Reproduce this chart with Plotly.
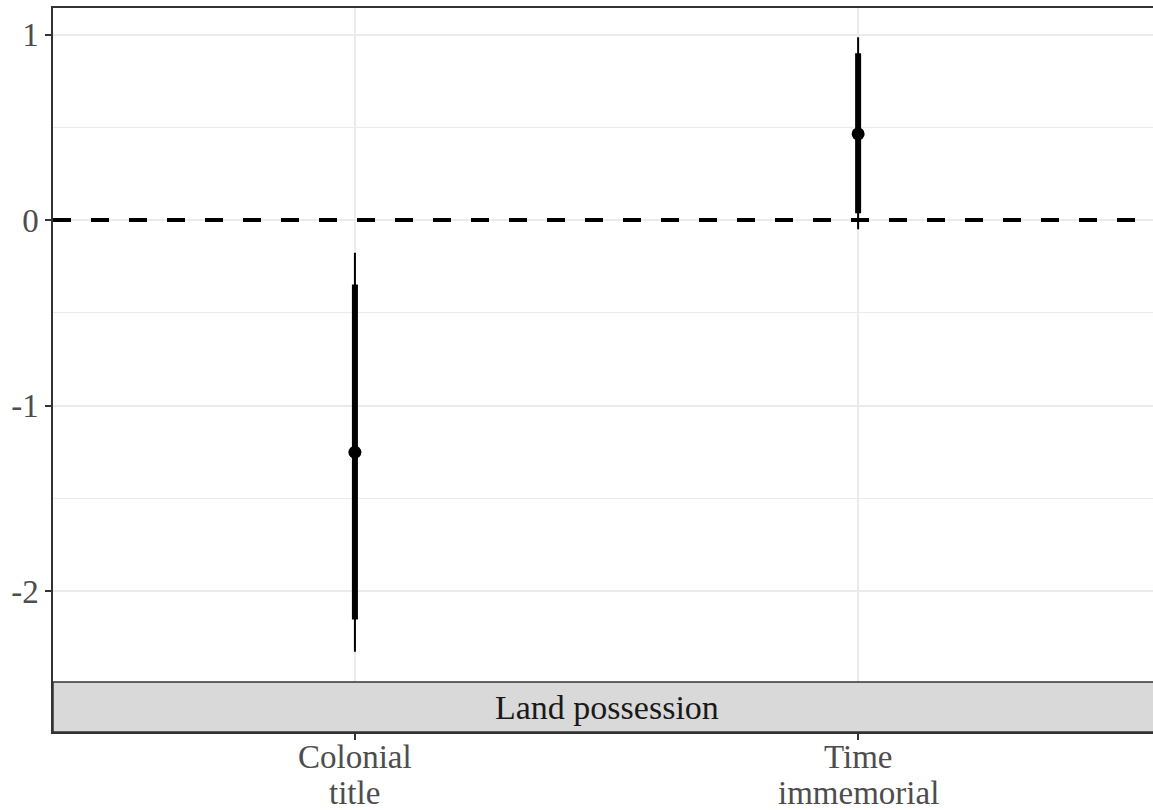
import plotly.graph_objects as go

# ---- data ----
categories = ["Colonial<br>title", "Time<br>immemorial"]
cat_pos = [1, 2]
estimates = [-1.252, 0.464]
ci90_low = [-2.153, 0.036]
ci90_high = [-0.348, 0.899]
ci95_low = [-2.327, -0.050]
ci95_high = [-0.176, 0.985]
y_ticks = [1, 0, -1, -2]
y_ticklabels = ["1", "0", "-1", "-2"]
y_minor = [0.5, -0.5, -1.5]
facet_label = "Land possession"
ref_value = 0

FONT = "Liberation Serif"
W, H = 1153, 810
ml, mr, mt, mb = 53, 0, 8, 78
plot_h = H - mt - mb
plot_bottom_px = H - mb
strip_h = 50

y_top = 1.1429
y_bot = -2.760
x_range = [0.4, 2.586]

fig = go.Figure()

# zero reference line (drawn first, under the intervals)
fig.add_trace(go.Scatter(x=x_range, y=[ref_value, ref_value], mode="lines",
                         line=dict(color="black", width=4, dash="18px,20px"),
                         hoverinfo="skip", showlegend=False))

def seg(xs, lo, hi):
    X, Y = [], []
    for x, a, b in zip(xs, lo, hi):
        X += [x, x, None]
        Y += [a, b, None]
    return X, Y

x95, y95 = seg(cat_pos, ci95_low, ci95_high)
fig.add_trace(go.Scatter(x=x95, y=y95, mode="lines",
                         line=dict(color="black", width=2), hoverinfo="skip",
                         showlegend=False))
x90, y90 = seg(cat_pos, ci90_low, ci90_high)
fig.add_trace(go.Scatter(x=x90, y=y90, mode="lines",
                         line=dict(color="black", width=6), hoverinfo="skip",
                         showlegend=False))
fig.add_trace(go.Scatter(x=cat_pos, y=estimates, mode="markers",
                         marker=dict(color="black", size=13), showlegend=False))

# facet strip (bottom)
fig.add_shape(type="rect", xref="paper", x0=0, x1=1.02, yref="paper",
              y0=0, y1=strip_h / plot_h,
              fillcolor="#D9D9D9", line=dict(color="#333333", width=1.5),
              layer="above")
fig.add_annotation(text=facet_label, xref="paper", yref="paper",
                   x=(606.5 - ml) / (W - ml - mr), y=(strip_h / 2) / plot_h,
                   showarrow=False, xanchor="center", yanchor="middle",
                   font=dict(family=FONT, size=34, color="#1A1A1A"))

# x tick labels as annotations (tight two-line spacing)
line_centers_px = [757, 793]
for xp, lab in zip(cat_pos, categories):
    for i, part in enumerate(lab.split("<br>")):
        fig.add_annotation(text=part, xref="x", yref="paper", x=xp,
                           y=(plot_bottom_px - line_centers_px[i]) / plot_h,
                           showarrow=False, xanchor="center", yanchor="middle",
                           font=dict(family=FONT, size=33, color="#4D4D4D"))

fig.update_layout(
    width=W, height=H,
    margin=dict(l=ml, r=mr, t=mt, b=mb, autoexpand=False),
    paper_bgcolor="white", plot_bgcolor="white",
    font=dict(family=FONT, size=33, color="#4D4D4D"),
    showlegend=False,
)
fig.update_xaxes(
    range=x_range, tickvals=cat_pos, ticktext=categories, showticklabels=False,
    showgrid=True, gridcolor="#EBEBEB", gridwidth=2,
    zeroline=False, automargin=False,
    showline=True, mirror=True, linecolor="#333333", linewidth=1.5,
    ticks="outside", ticklen=6, tickwidth=1.5, tickcolor="#333333",
)
fig.update_yaxes(
    range=[y_bot, y_top], tickvals=y_ticks, ticktext=y_ticklabels,
    showgrid=True, gridcolor="#EBEBEB", gridwidth=2,
    zeroline=False, automargin=False,
    showline=True, mirror=False, linecolor="#333333", linewidth=1.5,
    ticks="outside", ticklen=6, tickwidth=1.5, tickcolor="#333333",
    tickfont=dict(family=FONT, size=33, color="#4D4D4D"),
    minor=dict(tickvals=y_minor, showgrid=True, gridcolor="#EBEBEB",
               gridwidth=1, ticks=""),
)

fig.write_html("out.html")
